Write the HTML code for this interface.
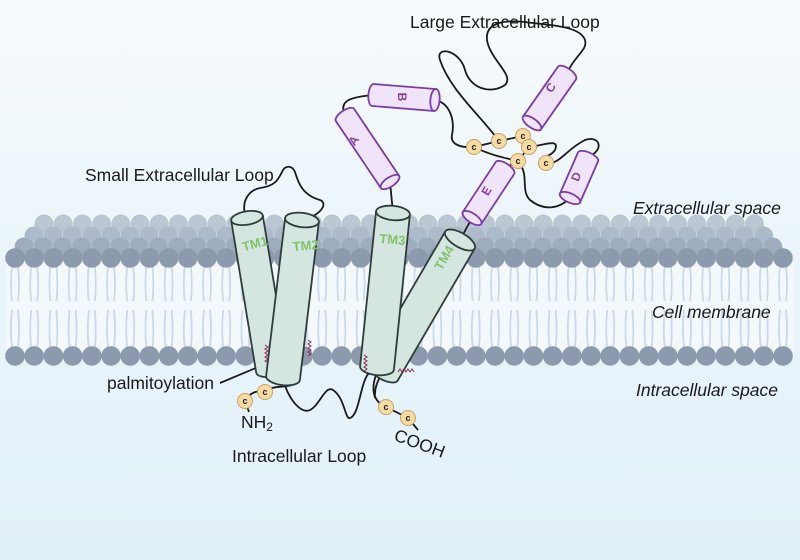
<!DOCTYPE html>
<html><head><meta charset="utf-8"><style>
html,body{margin:0;padding:0;}
body{width:800px;height:560px;overflow:hidden;}
svg{display:block;font-family:"Liberation Sans",sans-serif;}
</style></head><body>
<svg id="s" width="800" height="560" viewBox="0 0 800 560" xmlns="http://www.w3.org/2000/svg">
<defs>
<linearGradient id="bg" x1="0" y1="0" x2="0" y2="1">
<stop offset="0" stop-color="#f7fbfd"/><stop offset="0.45" stop-color="#eaf5fb"/><stop offset="1" stop-color="#e2f0f9"/>
</linearGradient>
</defs>
<rect width="800" height="560" fill="url(#bg)"/>
<rect x="6" y="262" width="788" height="90" fill="#f3f8fd"/>
<g id="mem"></g>
<g id="loops" fill="none" stroke="#1a1a1a" stroke-width="1.8">
<path d="M246 218 C240 200 250 190 260 188 C275 186 278 180 282 172 C285 165 292 165 295 172 C298 182 302 195 320 200 C328 203 322 215 302 220"/>
<path d="M393 213 L390 182"/>
<path d="M345 115 C338 100 352 97 373 95"/>
<path d="M435 100 C450 103 455 120 452 135 C450 145 462 148 474 147"/>
<path d="M474 147 L499 141 L523 136"/>
<path d="M474 147 C490 155 505 158 518 161"/>
<path d="M499 141 C480 115 450 90 440 60 C435 45 460 50 465 70 C470 88 490 95 505 85 C515 75 490 60 487 40 C485 22 505 20 525 22 C545 25 580 25 585 40 C588 50 575 55 567 73"/>
<path d="M529 147 C545 145 560 138 555 150 C550 158 540 155 546 163"/>
<path d="M546 163 C560 165 565 150 585 140 C600 135 605 150 588 157"/>
<path d="M518 161 C530 175 520 190 530 200 C545 212 560 208 570 198"/>
<path d="M523 136 L529 147 L518 161"/>
<path d="M505 168 L518 161"/>
<path d="M472 218 L460 240"/>
<path d="M283 378 C286 395 300 415 310 410 C320 405 325 385 333 390 C345 398 345 420 350 418 C360 415 360 380 370 372"/>
<path d="M265 392 C272 385 282 388 292 385"/>
<path d="M245 401 C250 392 258 390 265 392"/>
<path d="M245 401 L249 412"/>
<path d="M377 372 C372 385 370 400 386 407 L408 418 L418 430"/>
<path d="M383 372 C378 380 374 388 375 398"/>
<path d="M220 383 L270 362"/>
</g>
<g id="cyl"></g>
<g id="cys"></g>
<g fill="none" stroke="#8a2a55" stroke-width="1">
<path d="M265 345 l3 2 -3 2 3 2 -3 2 3 2 -3 2 3 2 -3 2 3 2"/>
<path d="M308 340 l3 2 -3 2 3 2 -3 2 3 2 -3 2 3 2 -3 2"/>
<path d="M364 355 l3 2 -3 2 3 2 -3 2 3 2 -3 2 3 2 -3 2"/>
<path d="M398 372 l2 -3 2 3 2 -3 2 3 2 -3 2 3 2 -3 2 3"/>
</g>
<g fill="#1a1a1a" font-size="17.5">
<text x="410" y="28">Large Extracellular Loop</text>
<text x="85" y="181">Small Extracellular Loop</text>
<text x="107" y="389">palmitoylation</text>
<text x="232" y="462">Intracellular Loop</text>
<text x="241" y="428">NH<tspan font-size="12" dy="3">2</tspan></text>
<text x="393" y="440" transform="rotate(20 393 440)">COOH</text>
<g font-style="italic"><text x="633" y="214">Extracellular space</text>
<text x="652" y="318">Cell membrane</text>
<text x="636" y="396">Intracellular space</text></g>
</g>
<script>
var NS="http://www.w3.org/2000/svg";
function el(p,t,a,txt){var e=document.createElementNS(NS,t);for(var k in a)e.setAttribute(k,a[k]);if(txt)e.textContent=txt;p.appendChild(e);return e;}
var mem=document.getElementById('mem');
var rows=[[224,"#bac7d3",44,756],[236,"#adbaca",34,766],[247,"#9eacbe",24,776]];
rows.forEach(function(r){for(var x=r[2];x<=r[3];x+=19.2)el(mem,'circle',{cx:x,cy:r[0],r:9.5,fill:r[1]});});
for(var x=15;x<=790;x+=19.2){
 el(mem,'path',{d:"M"+(x-3)+" 266 Q"+(x-5)+" 285 "+(x-3)+" 301 M"+(x+3)+" 266 Q"+(x+5)+" 285 "+(x+3)+" 301 M"+(x-3)+" 310 Q"+(x-5)+" 330 "+(x-3)+" 348 M"+(x+3)+" 310 Q"+(x+5)+" 330 "+(x+3)+" 348",fill:"none",stroke:"#cbd8ea","stroke-width":1.8});
}
for(var x=15;x<=790;x+=19.2){el(mem,'circle',{cx:x,cy:258,r:9.8,fill:"#8d99ad"});el(mem,'circle',{cx:x,cy:356,r:9.8,fill:"#8d99ad"});}
var cyl=document.getElementById('cyl');
function C(x1,y1,x2,y2,r,fill,stroke,openEnd){
 var dx=x2-x1,dy=y2-y1,L=Math.sqrt(dx*dx+dy*dy),ang=Math.atan2(dy,dx)*180/Math.PI-90;
 var ry=r*0.42;
 var g=el(cyl,'g',{transform:"translate("+x1+" "+y1+") rotate("+ang+")"});
 if(openEnd==1){
  el(g,'path',{d:"M"+(-r)+" 0 L"+(-r)+" "+L+" A"+r+" "+ry+" 0 0 0 "+r+" "+L+" L"+r+" 0 Z",fill:fill,stroke:stroke,"stroke-width":1.8,"stroke-linejoin":"round"});
  el(g,'ellipse',{cx:0,cy:0,rx:r,ry:ry,fill:fill,stroke:stroke,"stroke-width":1.8});
 } else {
  el(g,'path',{d:"M"+(-r)+" "+L+" L"+(-r)+" 0 A"+r+" "+ry+" 0 0 1 "+r+" 0 L"+r+" "+L+" Z",fill:fill,stroke:stroke,"stroke-width":1.8});
  el(g,'ellipse',{cx:0,cy:L,rx:r,ry:ry,fill:fill,stroke:stroke,"stroke-width":1.8});
 }
 return g;
}
var tf="#d5e5e0",ts="#2f3d3a",pf="#efe4fa",ps="#7a3bb0";
C(247,218,272,370,16,tf,ts,1);
C(302,220,283,378,17,tf,ts,1);
C(460,240,383,372,17,tf,ts,1);
C(393,213,377,368,17,tf,ts,1);
C(345,115,390,182,11,pf,ps,0);
C(373,95,435,100,11,pf,ps,0);
C(567,73,532,123,11,pf,ps,0);
C(588,157,570,198,11,pf,ps,0);
C(505,168,472,218,11,pf,ps,0);
function T(x,y,a,t,c,fs){el(cyl,'text',{x:x,y:y,transform:"rotate("+a+" "+x+" "+y+")",fill:c,"font-size":fs,"font-weight":"bold","text-anchor":"middle"},t);}
T(256,248,-15,"TM1","#7dc46a",13);T(306,250,-5,"TM2","#7dc46a",13);T(392,244,5,"TM3","#7dc46a",13);T(448,260,-60,"TM4","#7dc46a",13);
T(357,143,-55,"A","#8a3e9a",12);T(398,97,90,"B","#8a3e9a",12);T(554,90,-55,"C","#8a3e9a",12);T(580,178,-70,"D","#8a3e9a",12);T(490,193,-60,"E","#8a3e9a",12);
var cys=document.getElementById('cys');
[[474,147],[499,141],[523,136],[529,147],[518,161],[546,163],[265,392],[245,401],[386,407],[408,418]].forEach(function(p){
 el(cys,'circle',{cx:p[0],cy:p[1],r:7.5,fill:"#f6dca4",stroke:"#c9a064","stroke-width":1});
 el(cys,'text',{x:p[0],y:p[1]+3,"font-size":9,"font-weight":"bold","text-anchor":"middle",fill:"#222"},"c");
});
</script>
</svg>
</body></html>
